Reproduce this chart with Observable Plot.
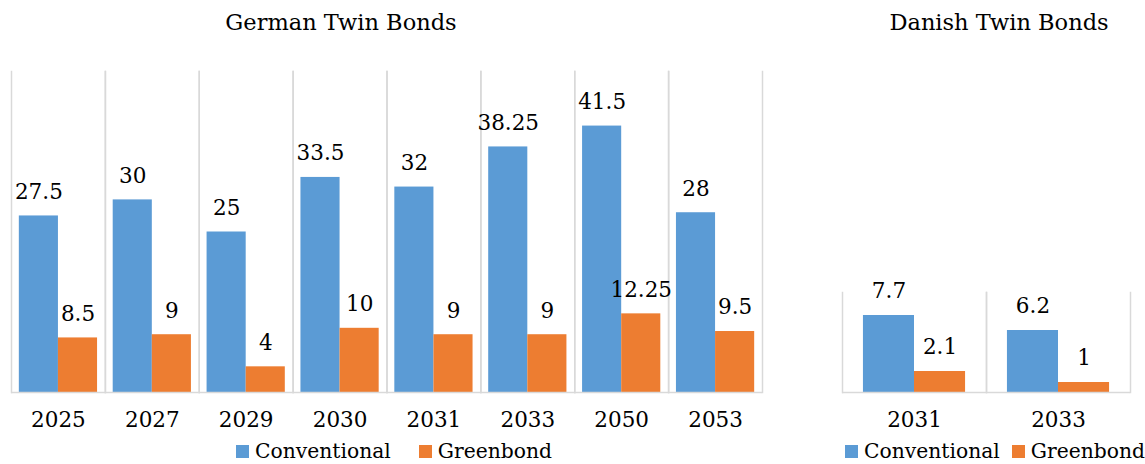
<!DOCTYPE html>
<html>
<head>
<meta charset="utf-8">
<script src="https://cdn.jsdelivr.net/npm/d3@7"></script>
<script src="https://cdn.jsdelivr.net/npm/@observablehq/plot@0.6"></script>
<style>
  body { margin: 0; background: #fff; }
  #wrap { position: relative; width: 1145px; height: 464px; font-family: "DejaVu Serif", serif; color: #000; overflow: hidden; }
  .panel { position: absolute; top: 0; }
  .title { position: absolute; top: 9px; font-size: 22.5px; white-space: nowrap; transform: translateX(-50%); }
  .legend { position: absolute; top: 439px; font-size: 20.3px; white-space: nowrap; display: flex; align-items: center; }
  .legend .sw { display: inline-block; width: 13px; height: 13px; margin-right: 6px; }
  .legend .item { display: inline-flex; align-items: center; }
</style>
</head>
<body>
<div id="wrap"></div>
<script>
const series = ["Conventional", "Greenbond"];
const seriesColors = ["#5b9bd5", "#ed7d31"];

const germanYears = ["2025", "2027", "2029", "2030", "2031", "2033", "2050", "2053"];
const germanConventional = [27.5, 30, 25, 33.5, 32, 38.25, 41.5, 28];
const germanGreenbond = [8.5, 9, 4, 10, 9, 9, 12.25, 9.5];

const danishYears = ["2031", "2033"];
const danishConventional = [7.7, 6.2];
const danishGreenbond = [2.1, 1];

function rows(years, conv, green) {
  const out = [];
  years.forEach((y, i) => {
    out.push({year: y, series: series[0], value: conv[i]});
    out.push({year: y, series: series[1], value: green[i]});
  });
  return out;
}

function panel(data, years, opts) {
  return Plot.plot({
    width: opts.width,
    height: 440,
    marginLeft: opts.marginLeft,
    marginRight: opts.marginRight,
    marginTop: opts.marginTop,
    marginBottom: 48,
    style: {fontFamily: "DejaVu Serif, serif", fontSize: "21.5px", color: "#000", background: "transparent"},
    fx: {domain: years, padding: 0, round: false, axis: "bottom", label: null, tickSize: 0, tickPadding: 19},
    x: {domain: series, paddingInner: 0, paddingOuter: opts.outer, round: false, axis: null},
    y: {domain: [0, opts.ymax], axis: null},
    color: {domain: series, range: seriesColors},
    marks: [
      Plot.frame({anchor: "left", stroke: "#d9d9d9", strokeWidth: 1.5}),
      Plot.frame({anchor: "right", stroke: "#d9d9d9", strokeWidth: 1.5}),
      Plot.barY(data, {fx: "year", x: "series", y: "value", fill: "series"}),
      Plot.ruleY([0], {stroke: "#d9d9d9", strokeWidth: 1.5}),
      Plot.text(data, {fx: "year", x: "series", y: "value", text: d => String(d.value), dy: -24, fontSize: 21.5, fill: "#000"})
    ]
  });
}

const wrap = document.getElementById("wrap");

const g = panel(rows(germanYears, germanConventional, germanGreenbond), germanYears,
  {width: 780, marginLeft: 11, marginRight: 18, marginTop: 71, ymax: 50, outer: 0.2});
const gDiv = document.createElement("div");
gDiv.className = "panel"; gDiv.style.left = "0px";
gDiv.appendChild(g); wrap.appendChild(gDiv);

const dk = panel(rows(danishYears, danishConventional, danishGreenbond), danishYears,
  {width: 365, marginLeft: 62, marginRight: 15, marginTop: 292, ymax: 10, outer: 0.41});
const dDiv = document.createElement("div");
dDiv.className = "panel"; dDiv.style.left = "780px";
dDiv.appendChild(dk); wrap.appendChild(dDiv);

function addTitle(text, cx) {
  const t = document.createElement("div");
  t.className = "title"; t.textContent = text; t.style.left = cx + "px";
  wrap.appendChild(t);
}
addTitle("German Twin Bonds", 341);
addTitle("Danish Twin Bonds", 999);

function addLegend(left, gap) {
  const l = document.createElement("div");
  l.className = "legend"; l.style.left = left + "px";
  series.forEach((s, i) => {
    const it = document.createElement("span"); it.className = "item";
    if (i > 0) it.style.marginLeft = gap + "px";
    const sw = document.createElement("span"); sw.className = "sw"; sw.style.background = seriesColors[i];
    it.appendChild(sw); it.appendChild(document.createTextNode(s));
    l.appendChild(it);
  });
  wrap.appendChild(l);
}
addLegend(236, 28);
addLegend(845, 12);
</script>
</body>
</html>
